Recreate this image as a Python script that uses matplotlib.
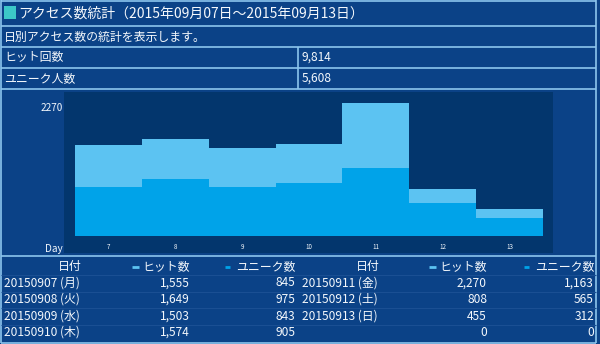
import matplotlib.pyplot as plt
import numpy as np

plt.rcParams['font.family'] = ['Noto Sans CJK JP', 'DejaVu Sans']

# 日別アクセス数
days = [7, 8, 9, 10, 11, 12, 13]
dates = ['20150907 (月)', '20150908 (火)', '20150909 (水)', '20150910 (木)',
         '20150911 (金)', '20150912 (土)', '20150913 (日)']
hits = [1555, 1649, 1503, 1574, 2270, 808, 455]
uniques = [845, 975, 843, 905, 1163, 565, 312]

title = 'アクセス数統計（2015年09月07日～2015年09月13日）'
subtitle = '日別アクセス数の統計を表示します。'

BG = '#0b4287'
PLOT_BG = '#03366d'
LINE = '#8cc6ee'
HIT_C = '#5cc3f2'
UNI_C = '#00a3e9'
TXT = '#f4f8fc'

W, H = 600, 344
fig = plt.figure(figsize=(W / 100, H / 100), dpi=100, facecolor=BG)

# 枠とテキスト用のピクセル座標レイヤー
base = fig.add_axes([0, 0, 1, 1])
base.set_xlim(0, W)
base.set_ylim(H, 0)
base.axis('off')
base.set_facecolor(BG)

def hline(y, x0=0.5, x1=596, c=LINE, lw=1.2):
    base.plot([x0, x1], [y, y], color=c, lw=lw, solid_capstyle='butt')

def vline(x, y0, y1, c=LINE, lw=1.2):
    base.plot([x, x], [y0, y1], color=c, lw=lw, solid_capstyle='butt')

for y in [0.8, 26, 47, 68, 89, 255.5, 342.5]:
    hline(y)
vline(0.8, 0, 343)
vline(596, 0, 343)
vline(298, 47, 89)

# 表の行区切り (薄い線)
for y in [275, 291.5, 308, 324.5]:
    hline(y, c='#1a4f93', lw=0.8)

# タイトル
base.add_patch(plt.Rectangle((4, 6), 12, 13, color='#3cc8c8', lw=0))
base.text(18, 13.5, title, color=TXT, fontsize=10, va='center', ha='left')
base.text(4, 37, subtitle, color=TXT, fontsize=8.6, va='center')
base.text(4, 57.5, 'ヒット回数', color=TXT, fontsize=8.6, va='center')
base.text(302, 57.5, f'{sum(hits):,}', color=TXT, fontsize=8.6, va='center')
base.text(4, 78.5, 'ユニーク人数', color=TXT, fontsize=8.6, va='center')
base.text(302, 78.5, f'{sum(uniques):,}', color=TXT, fontsize=8.6, va='center')

# グラフ
x0, x1, y0, y1 = 64, 553, 92, 253
ax = fig.add_axes([x0 / W, 1 - y1 / H, (x1 - x0) / W, (y1 - y0) / H])
ax.set_facecolor(PLOT_BG)
edges = np.arange(days[0] - 0.5, days[-1] + 1.0, 1.0)
ax.stairs(hits, edges, fill=True, color=HIT_C, lw=0)
ax.stairs(uniques, edges, fill=True, color=UNI_C, lw=0)
ax.set_xlim(6.335, 13.65)
ax.set_ylim(-290, 2458)
ax.set_xticks(days)
ax.set_xticklabels([str(d) for d in days])
ax.set_yticks([max(hits)])
ax.set_yticklabels([str(max(hits))], va='top')
ax.tick_params(axis='x', length=0, pad=-7.5, labelsize=4.5, colors=TXT)
ax.tick_params(axis='y', length=0, pad=1, labelsize=7.2, colors=TXT)
for s in ax.spines.values():
    s.set_visible(False)
base.text(63, 249, 'Day', color=TXT, fontsize=7.2, ha='right', va='center')

# 日別の表
rows_y = [283, 299.5, 316, 332.5]
head_y = 266.5
fs = 8.6
halves = [(4, 82, 190, 295), (302, 380, 487, 594)]
tbl_dates = dates + ['']
tbl_hits = hits + [0]
tbl_uni = uniques + [0]
for h, (xd, xdh, xh, xu) in enumerate(halves):
    base.text(xdh, head_y, '日付', color=TXT, fontsize=fs, ha='right', va='center')
    base.text(xh, head_y, 'ヒット数', color=TXT, fontsize=fs, ha='right', va='center')
    base.text(xu, head_y, 'ユニーク数', color=TXT, fontsize=fs, ha='right', va='center')
    base.plot([xh - 58, xh - 51], [head_y, head_y], color=HIT_C, lw=2, solid_capstyle='butt')
    base.plot([xu - 70, xu - 65], [head_y, head_y], color=UNI_C, lw=2, solid_capstyle='butt')
    for r, y in enumerate(rows_y):
        i = h * 4 + r
        base.text(xd, y, tbl_dates[i], color=TXT, fontsize=fs, ha='left', va='center')
        base.text(xh, y, f'{tbl_hits[i]:,}', color=TXT, fontsize=fs, ha='right', va='center')
        base.text(xu, y, f'{tbl_uni[i]:,}', color=TXT, fontsize=fs, ha='right', va='center')

fig.savefig('out.png', dpi=100, facecolor=BG)
